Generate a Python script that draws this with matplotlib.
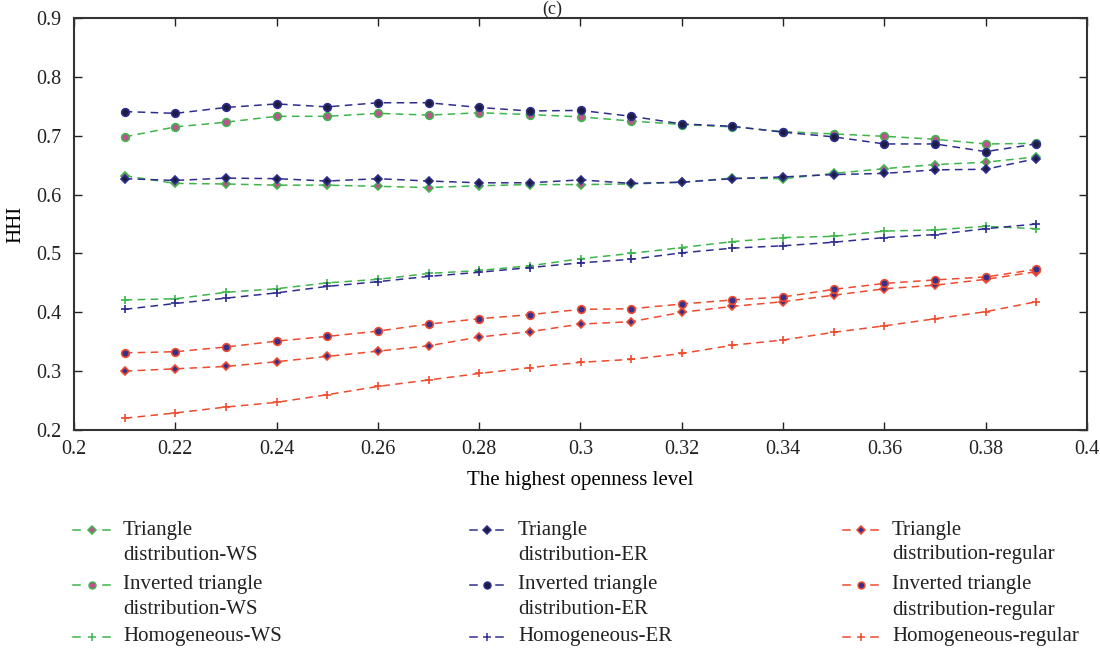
import matplotlib
matplotlib.use("Agg")
import matplotlib.pyplot as plt
from matplotlib.lines import Line2D
import numpy as np

plt.rcParams['font.family'] = ['Liberation Serif', 'DejaVu Serif']

x = [0.21, 0.22, 0.23, 0.24, 0.25, 0.26, 0.27, 0.28, 0.29, 0.30,
     0.31, 0.32, 0.33, 0.34, 0.35, 0.36, 0.37, 0.38, 0.39]

tri_ws = [0.632, 0.619, 0.618, 0.616, 0.616, 0.614, 0.612, 0.615, 0.617, 0.617,
          0.618, 0.621, 0.628, 0.627, 0.636, 0.644, 0.651, 0.655, 0.664]
inv_ws = [0.698, 0.715, 0.723, 0.733, 0.733, 0.738, 0.735, 0.739, 0.736, 0.732,
          0.725, 0.719, 0.715, 0.707, 0.703, 0.699, 0.694, 0.686, 0.687]
hom_ws = [0.421, 0.423, 0.434, 0.440, 0.450, 0.456, 0.466, 0.471, 0.479, 0.491,
          0.500, 0.510, 0.520, 0.527, 0.529, 0.538, 0.540, 0.546, 0.542]
tri_er = [0.627, 0.624, 0.628, 0.627, 0.623, 0.627, 0.623, 0.620, 0.620, 0.625,
          0.619, 0.621, 0.627, 0.630, 0.634, 0.636, 0.642, 0.643, 0.661]
inv_er = [0.741, 0.738, 0.748, 0.754, 0.749, 0.756, 0.756, 0.748, 0.742, 0.743,
          0.733, 0.720, 0.716, 0.706, 0.698, 0.686, 0.686, 0.673, 0.686]
hom_er = [0.405, 0.415, 0.424, 0.433, 0.444, 0.452, 0.461, 0.468, 0.476, 0.484,
          0.490, 0.501, 0.509, 0.513, 0.519, 0.527, 0.532, 0.542, 0.550]
tri_reg = [0.300, 0.304, 0.308, 0.316, 0.325, 0.334, 0.343, 0.358, 0.367, 0.380,
           0.384, 0.400, 0.410, 0.418, 0.429, 0.440, 0.446, 0.456, 0.469]
inv_reg = [0.331, 0.333, 0.341, 0.351, 0.359, 0.368, 0.380, 0.389, 0.396, 0.405,
           0.406, 0.414, 0.421, 0.426, 0.439, 0.449, 0.455, 0.460, 0.473]
hom_reg = [0.220, 0.229, 0.239, 0.247, 0.260, 0.274, 0.285, 0.296, 0.306, 0.315,
           0.320, 0.330, 0.344, 0.353, 0.366, 0.377, 0.389, 0.401, 0.418]

labels_ws = ["Triangle\ndistribution-WS", "Inverted triangle\ndistribution-WS", "Homogeneous-WS"]
labels_er = ["Triangle\ndistribution-ER", "Inverted triangle\ndistribution-ER", "Homogeneous-ER"]
labels_reg = ["Triangle\ndistribution-regular", "Inverted triangle\ndistribution-regular", "Homogeneous-regular"]

GREEN = '#3db54a'
NAVY = '#2e2d8f'
RED = '#f04a2e'

W, H = 1100, 652
fig = plt.figure(figsize=(W/100, H/100), dpi=100)
ax = fig.add_axes([74/W, 1 - 430/H, (1087-74)/W, (430-18)/H])

dash = (0, (5, 3.5))
specs = [
    (tri_ws, labels_ws[0], GREEN, 'D', '#c0508f', 4.5),
    (inv_ws, labels_ws[1], GREEN, 'o', '#c0508f', 5.5),
    (hom_ws, labels_ws[2], GREEN, '+', GREEN, 6),
    (tri_er, labels_er[0], NAVY, 'D', '#1c1c3c', 4.5),
    (inv_er, labels_er[1], NAVY, 'o', '#1c1c3c', 5.5),
    (hom_er, labels_er[2], NAVY, '+', NAVY, 6),
    (tri_reg, labels_reg[0], RED, 'D', '#34308c', 4.5),
    (inv_reg, labels_reg[1], RED, 'o', '#34308c', 5.5),
    (hom_reg, labels_reg[2], RED, '+', RED, 6),
]
for y, lab, col, mk, fc, ms in specs:
    ax.plot(x, y, linestyle=dash, color=col, lw=1.1, marker=mk,
            markersize=ms, markerfacecolor=fc, markeredgecolor=col,
            markeredgewidth=1.2, label=lab)

ax.set_xlim(0.2, 0.4)
ax.set_ylim(0.2, 0.9)
ax.set_xticks(np.arange(0.2, 0.401, 0.02))
ax.set_xticklabels(['0.2', '0.22', '0.24', '0.26', '0.28', '0.3', '0.32', '0.34', '0.36', '0.38', '0.4'])
ax.set_yticks(np.arange(0.2, 0.901, 0.1))
ax.set_yticklabels(['0.2', '0.3', '0.4', '0.5', '0.6', '0.7', '0.8', '0.9'])
ax.tick_params(direction='in', top=True, right=True, labelsize=14.5, length=6, width=1,
               colors='#222222')
ax.tick_params(axis='x', pad=7)
ax.tick_params(axis='y', pad=9)
for s in ax.spines.values():
    s.set_linewidth(1.5)
    s.set_color('#333333')
ax.set_xlabel('The highest openness level', fontsize=15, labelpad=9)
ax.set_ylabel('HHI', fontsize=15, labelpad=8)
fig.text(552/W, 1 - 9/H, '(c)', fontsize=13, ha='center', va='center', color='#222222')

# manual legend: three columns, handle aligned with first label line
cols = [(73, 110, 123), (470, 503, 518), (843, 878, 892)]
row_y = [530, 585, 637]
line_gap = 25
for ci, (hx0, hx1, tx) in enumerate(cols):
    for ri in range(3):
        y, lab, col, mk, fc, ms = specs[ci*3 + ri]
        yy = 1 - row_y[ri]/H
        seg = 7
        for a, b in [(hx0, hx0 + seg), (hx1 - seg, hx1)]:
            fig.add_artist(Line2D([a/W, b/W], [yy, yy], transform=fig.transFigure,
                                  color=col, lw=1.1))
        fig.add_artist(Line2D([(hx0 + hx1)/2/W], [yy], transform=fig.transFigure,
                              linestyle='none', marker=mk, markersize=ms*0.9,
                              markerfacecolor=fc, markeredgecolor=col,
                              markeredgewidth=1.1))
        for li, part in enumerate(lab.split('\n')):
            fig.text(tx/W, 1 - (row_y[ri] + li*line_gap)/H, part, fontsize=15,
                     ha='left', va='center', color='#222222')

fig.savefig('out.png', dpi=100)
